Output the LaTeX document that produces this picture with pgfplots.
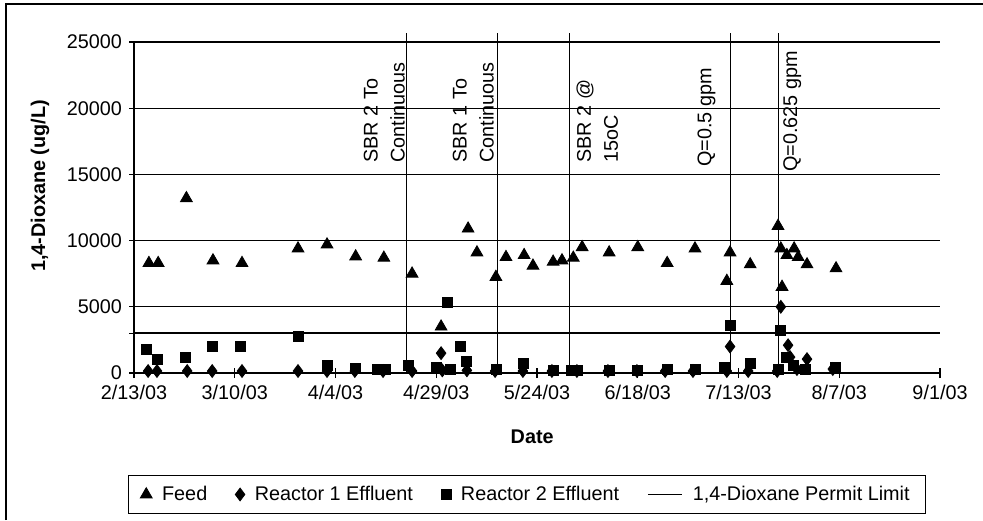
\documentclass[border=0pt]{standalone}
\usepackage{fontspec}
\setmainfont{Liberation Sans}
\usepackage{pgfplots}
\pgfplotsset{compat=1.18}
\newcommand{\chartfont}{\fontsize{9.9}{11.5}\selectfont}
\newcommand{\eventfont}{\fontsize{9.9}{13.5}\selectfont}
\begin{document}
\begin{tikzpicture}
\useasboundingbox (0pt,0pt) rectangle (491.5pt,-260pt);
\draw[line width=1pt] (3pt,-260pt) -- (3pt,-2pt) -- (491.5pt,-2pt);
\begin{axis}[
  at={(67pt,-186.5pt)}, anchor=south west,
  scale only axis, width=403pt, height=165.5pt,
  xmin=0, xmax=200, ymin=0, ymax=25000,
  axis x line=bottom, axis y line=left,
  axis line style={-, line width=0.7pt},
  xtick={0,25,...,200},
  xticklabels={2/13/03,3/10/03,4/4/03,4/29/03,5/24/03,6/18/03,7/13/03,8/7/03,9/1/03},
  ytick={0,5000,...,25000},
  scaled y ticks=false,
  yticklabel={\pgfmathprintnumber[fixed,precision=0,1000 sep={}]{\tick}},
  extra y ticks={3000}, extra y tick labels={}, extra tick style={grid=none},
  ymajorgrids, major grid style={black, line width=0.6pt},
  tick align=center, major tick length=5pt, tick style={black, line width=0.6pt},
  tick label style={font=\chartfont},
  label style={font=\chartfont},
  /pgf/number format/assume math mode=true,
  /pgf/number format/1000 sep={},
  xlabel={\textbf{Date}}, ylabel={\textbf{1,4-Dioxane (ug/L)}},
  xlabel style={at={(axis description cs:0.494,-0.193)}, anchor=center},
  ylabel style={at={(axis description cs:-0.1166,0.565)}, anchor=center},
  clip=false,
  legend style={at={(axis description cs:0.4876,-0.367)}, anchor=center,
    draw=black, thin, font=\chartfont, inner xsep=6pt, inner ysep=3pt,
    /tikz/every odd column/.append style={column sep=3pt},
    /tikz/every even column/.append style={column sep=12pt}},
  legend columns=-1,
]
% Feed
\addplot[only marks, mark=triangle*, mark size=3.4pt, mark options={fill=black, draw=black}] coordinates {
(3.7,8300) (6,8300) (13,13200) (19.6,8500) (26.8,8300) (40.7,9400) (47.9,9700)
(55,8800) (62,8700) (69,7500) (76.2,3500) (82.9,10900) (85.1,9100) (89.8,7250)
(92.3,8750) (96.8,8900) (99,8100) (104,8400) (106.2,8500) (109,8700) (111.2,9500)
(117.9,9100) (125,9500) (132.3,8300) (139.2,9400) (147.1,6950) (147.9,9100)
(152.9,8200) (159.8,11100) (160.5,9400) (160.8,6500) (162,8900) (163.8,9400)
(164.8,8750) (167,8200) (174.2,7900)};
\addlegendentry{Feed}
% Reactor 1 Effluent
\addplot[only marks, mark=diamond*, mark size=3.2pt, mark options={fill=black, draw=black}] coordinates {
(3.5,150) (5.7,150) (13.2,150) (19.4,150) (26.8,150) (40.7,150) (47.9,150)
(54.8,150) (61.8,150) (69,150) (76.2,1500) (76.5,200) (82.6,200) (89.6,150)
(96.5,150) (103.7,150) (109.9,150) (117.6,150) (124.8,150) (131.8,150)
(138.7,150) (147.1,150) (147.9,2000) (152.4,150) (159.6,150) (160.5,5000)
(162.3,2100) (162.8,1200) (164.5,300) (167,1050) (173.4,300)};
\addlegendentry{Reactor 1 Effluent}
% Reactor 2 Effluent
\addplot[only marks, mark=square*, mark size=2.5pt, mark options={fill=black, draw=black}] coordinates {
(3.2,1800) (5.7,1000) (12.7,1200) (19.4,2000) (26.5,2000) (40.7,2800) (47.9,600)
(55,350) (60.5,300) (62.3,300) (68,600) (75,400) (77.7,5300) (78.5,300)
(80.9,2000) (82.6,900) (90,300) (96.5,750) (104,200) (108.5,200) (110,200)
(117.9,200) (125,200) (132.3,300) (139.2,300) (146.6,450) (147.9,3600)
(153,750) (159.8,300) (160.5,3200) (162,1200) (163.5,600) (166.7,300) (174,450)};
\addlegendentry{Reactor 2 Effluent}
% Permit limit
\addplot[black, line width=0.8pt] coordinates {(0,3000) (200,3000)};
\addlegendentry{1,4-Dioxane Permit Limit}
% Event lines
\addplot[black, line width=0.6pt, forget plot] coordinates {(67.7,0) (67.7,25700)};
\addplot[black, line width=0.6pt, forget plot] coordinates {(90.1,0) (90.1,25700)};
\addplot[black, line width=0.6pt, forget plot] coordinates {(108,0) (108,25700)};
\addplot[black, line width=0.6pt, forget plot] coordinates {(148.1,0) (148.1,25700)};
\addplot[black, line width=0.6pt, forget plot] coordinates {(160,0) (160,25700)};
% Event labels
\node[rotate=90, anchor=south west, align=left, inner sep=0pt, font=\eventfont] at (axis cs:67.3,15860) {SBR 2 To\\Continuous};
\node[rotate=90, anchor=south west, align=left, inner sep=0pt, font=\eventfont] at (axis cs:89.4,15860) {SBR 1 To\\Continuous};
\node[rotate=90, anchor=north west, align=left, inner sep=0pt, font=\eventfont] at (axis cs:109.7,15860) {SBR 2 @\\15oC};
\node[rotate=90, anchor=south west, align=left, inner sep=0pt, font=\eventfont] at (axis cs:144.4,15560) {Q=0.5 gpm};
\node[rotate=90, anchor=north west, align=left, inner sep=0pt, font=\eventfont] at (axis cs:161.0,15180) {Q=0.625 gpm};
\end{axis}
\end{tikzpicture}
\end{document}
